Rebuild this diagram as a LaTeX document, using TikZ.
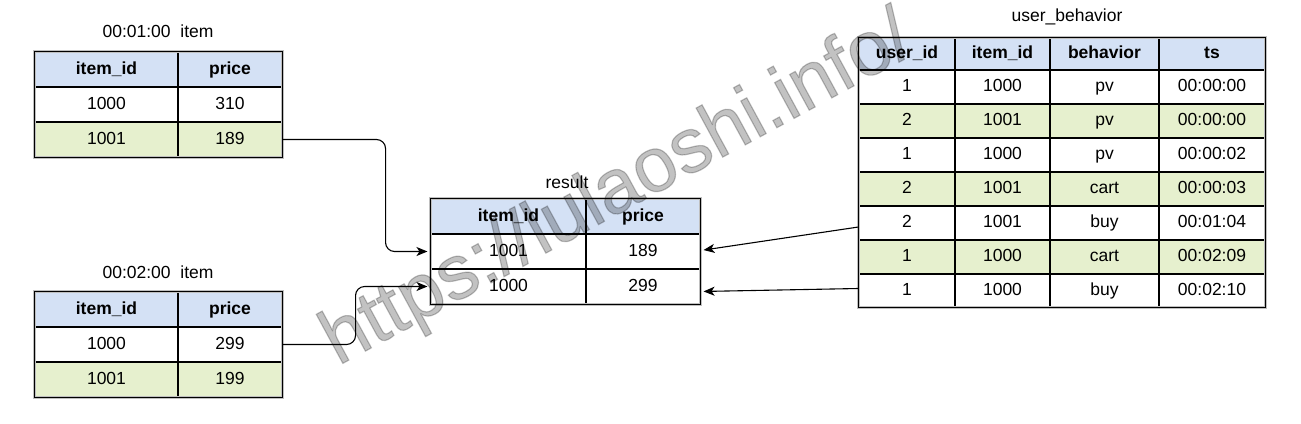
\documentclass[tikz,border=0pt]{standalone}
\usepackage{fontspec}
\setmainfont{Liberation Sans}
\newfontfamily\wmfont[FakeBold=1.5]{Liberation Sans}
\usetikzlibrary{arrows.meta,calc}
\definecolor{hdr}{HTML}{D4E1F5}
\definecolor{grn}{HTML}{E6F0CE}
\tikzset{
  cell/.style={draw=black, line width=1.1pt, inner sep=0pt, text height=12.6pt, text depth=3.6pt, font=\fontsize{17.5}{20}\selectfont},
  hcell/.style={cell, fill=hdr, font=\fontsize{17.5}{20}\selectfont\bfseries},
  wcell/.style={cell, fill=white},
  gcell/.style={cell, fill=grn},
  halo/.style={draw=gray!50, line width=3pt},
  rim/.style={draw=black, line width=1.1pt},
  ttl/.style={font=\fontsize{17.5}{20}\selectfont, inner sep=0pt},
  conn/.style={draw=black, line width=1.1pt, rounded corners=9pt, -{Stealth[length=11pt,width=9pt,inset=3pt]}, shorten >=3pt},
  wmark/.style={font=\wmfont\fontsize{77}{90}\selectfont, text=black, opacity=0.24, rotate=28.5, inner sep=0pt, anchor=base west}
}
\newcommand\tcell[7]{\node[#6, minimum width={#4-#2}, minimum height={#5-#3}] (#1) at ({(#2+#4)/2},{(#3+#5)/2}) {#7};}
\begin{document}
\begin{tikzpicture}[x=1pt,y=-1pt]
\fill[white] (0,0) rectangle (1301,423);
\useasboundingbox (0,0) rectangle (1301,423);

% ---------- table 1 ----------
\node[ttl] (t1title) at (158,31) {00:01:00\ \ item};
\tcell{a00}{35}{52}{178}{87}{hcell}{item\_id}
\tcell{a01}{178}{52}{282}{87}{hcell}{price}
\tcell{a10}{35}{87}{178}{122}{wcell}{1000}
\tcell{a11}{178}{87}{282}{122}{wcell}{310}
\tcell{a20}{35}{122}{178}{157}{gcell}{1001}
\tcell{a21}{178}{122}{282}{157}{gcell}{189}
\draw[halo] (a00.north west) rectangle (a21.south east);
\draw[rim] (a00.north west) rectangle (a21.south east);

% ---------- table 2 ----------
\node[ttl] (t2title) at (158,272) {00:02:00\ \ item};
\tcell{b00}{35}{292}{178}{327}{hcell}{item\_id}
\tcell{b01}{178}{292}{282}{327}{hcell}{price}
\tcell{b10}{35}{327}{178}{362}{wcell}{1000}
\tcell{b11}{178}{327}{282}{362}{wcell}{299}
\tcell{b20}{35}{362}{178}{397}{gcell}{1001}
\tcell{b21}{178}{362}{282}{397}{gcell}{199}
\draw[halo] (b00.north west) rectangle (b21.south east);
\draw[rim] (b00.north west) rectangle (b21.south east);

% ---------- result ----------
\node[ttl] (rtitle) at (567,182) {result};
\tcell{r00}{431}{199}{586}{234}{hcell}{item\_id}
\tcell{r01}{586}{199}{700}{234}{hcell}{price}
\tcell{r10}{431}{234}{586}{269}{wcell}{1001}
\tcell{r11}{586}{234}{700}{269}{wcell}{189}
\tcell{r20}{431}{269}{586}{304}{wcell}{1000}
\tcell{r21}{586}{269}{700}{304}{wcell}{299}
\draw[halo] (r00.north west) rectangle (r21.south east);
\draw[rim] (r00.north west) rectangle (r21.south east);

% ---------- user_behavior ----------
\node[ttl] (utitle) at (1067,17) {user\_behavior};
\tcell{u01}{859}{38}{955}{70}{hcell}{user\_id}
\tcell{u02}{955}{38}{1050}{70}{hcell}{item\_id}
\tcell{u03}{1050}{38}{1159}{70}{hcell}{behavior}
\tcell{u04}{1159}{38}{1265}{70}{hcell}{ts}
\foreach \ua/\ub/\uc/\ud/\ya/\yb/\st [count=\r] in {
  1/1000/pv/00:00:00/70/104/wcell,
  2/1001/pv/00:00:00/104/138/gcell,
  1/1000/pv/00:00:02/138/172/wcell,
  2/1001/cart/00:00:03/172/206/gcell,
  2/1001/buy/00:01:04/206/240/wcell,
  1/1000/cart/00:02:09/240/274/gcell,
  1/1000/buy/00:02:10/274/307/wcell}{
  \tcell{u\r1}{859}{\ya}{955}{\yb}{\st}{\ua}
  \tcell{u\r2}{955}{\ya}{1050}{\yb}{\st}{\ub}
  \tcell{u\r3}{1050}{\ya}{1159}{\yb}{\st}{\uc}
  \tcell{u\r4}{1159}{\ya}{1265}{\yb}{\st}{\ud}
}
\draw[halo] (u01.north west) rectangle (u74.south east);
\draw[rim] (u01.north west) rectangle (u74.south east);

% ---------- connectors ----------
\draw[conn] (a21.east) -- ++(103,0) |- (r10.west);
\draw[conn] (b11.east) -- ++(73,0) |- (r20.west);
\draw[conn, rounded corners=0pt] ([yshift=-4pt]u51.west) -- ([yshift=1pt]r11.east);
\draw[conn, rounded corners=0pt] ([yshift=2pt]u71.west) -- ([yshift=-5pt]r21.east);

% ---------- watermark ----------
\node[wmark] (wm) at (338,366) {https://lulaoshi.info/};
\end{tikzpicture}
\end{document}
